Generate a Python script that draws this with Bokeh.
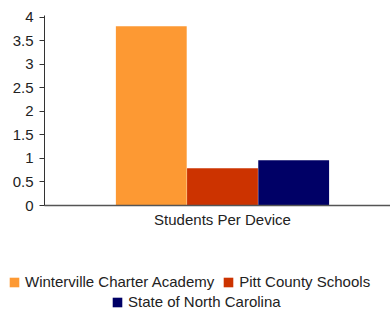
from bokeh.plotting import figure
from bokeh.models import Range1d, Legend, LegendItem, ColumnDataSource, FixedTicker
from bokeh.layouts import column
from bokeh.transform import dodge
from bokeh.embed import file_html
from bokeh.resources import INLINE

categories = ["Students Per Device"]
series_names = ["Winterville Charter Academy", "Pitt County Schools", "State of North Carolina"]
winterville = [3.81]
pitt = [0.79]
state = [0.96]
colors = ["#FD9933", "#CC3300", "#000066"]
y_ticks = [0, 0.5, 1, 1.5, 2, 2.5, 3, 3.5, 4]
y_tick_labels = ["0", "0.5", "1", "1.5", "2", "2.5", "3", "3.5", "4"]

FONT = "Liberation Sans"
FS = "15px"

x_pos = [i + 0.5 for i in range(len(categories))]
source = ColumnDataSource(data=dict(x=x_pos, w=winterville, p=pitt, s=state))

p = figure(width=390, height=235, output_backend="svg", toolbar_location=None,
           x_range=Range1d(0, 0.972), y_range=Range1d(0, 4.04),
           min_border_left=44, min_border_right=0, min_border_top=15, min_border_bottom=30)
p.outline_line_color = None
p.xgrid.visible = False
p.ygrid.visible = False
p.background_fill_color = "white"
p.frame_align = False

bar_w = 0.199
offsets = [-0.2, 0.0, 0.2]
cols = ["w", "p", "s"]
for col, off, c in zip(cols, offsets, colors):
    p.vbar(x=dodge("x", off), top=col, width=bar_w, source=source,
           fill_color=c, line_color=None)

# y axis
yax = p.yaxis[0]
yax.ticker = FixedTicker(ticks=y_ticks)
yax.major_label_overrides = {t: l for t, l in zip(y_ticks, y_tick_labels)}
yax.minor_tick_line_color = None
yax.major_tick_in = 0
yax.major_tick_out = 5
yax.axis_line_color = "#333333"
yax.major_tick_line_color = "#333333"
yax.major_label_text_font = FONT
yax.major_label_text_font_size = FS
yax.major_label_text_color = "#222222"
yax.major_label_standoff = 6

# x axis
xax = p.xaxis[0]
xax.ticker = FixedTicker(ticks=x_pos)
xax.major_label_overrides = {t: l for t, l in zip(x_pos, categories)}
xax.minor_tick_line_color = None
xax.major_tick_line_color = None
xax.major_tick_in = 0
xax.major_tick_out = 0
xax.axis_line_color = "#555555"
xax.axis_line_width = 1.5
xax.major_label_text_font = FONT
xax.major_label_text_font_size = FS
xax.major_label_text_color = "#222222"
xax.major_label_standoff = 5

# legend area (separate strip under the chart; its bars lie outside its view)
p2 = figure(width=390, height=77, output_backend="svg", toolbar_location=None,
            x_range=Range1d(100, 101), y_range=Range1d(100, 101),
            x_axis_location=None, y_axis_location=None,
            min_border_left=0, min_border_right=0, min_border_top=0, min_border_bottom=0)
p2.outline_line_color = None
p2.xgrid.visible = False
p2.ygrid.visible = False
p2.frame_align = False
leg_renderers = [p2.vbar(x="x", top=col, width=bar_w, source=source,
                         fill_color=c, line_color=None) for col, c in zip(cols, colors)]

def make_legend(items, loc):
    return Legend(items=items, location=loc, orientation="horizontal",
                  padding=0, margin=0, spacing=8, label_standoff=5,
                  glyph_width=12, glyph_height=12, label_height=12,
                  label_text_font=FONT, label_text_font_size=FS,
                  label_text_color="#222222",
                  border_line_alpha=0, background_fill_alpha=0)

items1 = [LegendItem(label=series_names[0], renderers=[leg_renderers[0]]),
          LegendItem(label=series_names[1], renderers=[leg_renderers[1]])]
items2 = [LegendItem(label=series_names[2], renderers=[leg_renderers[2]])]
p2.add_layout(make_legend(items1, (8, 22)), "center")
p2.add_layout(make_legend(items2, (111, 2)), "center")

layout = column(p, p2, spacing=0)
open("out.html", "w").write(file_html(layout, INLINE))
